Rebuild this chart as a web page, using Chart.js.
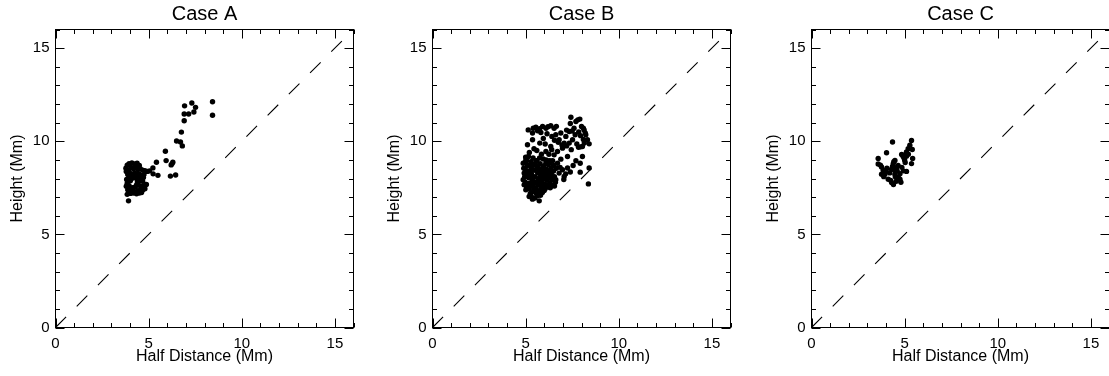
<!DOCTYPE html>
<html>
<head>
<meta charset="utf-8">
<script src="https://cdn.jsdelivr.net/npm/chart.js@4/dist/chart.umd.min.js"></script>
<style>
  html, body { margin: 0; padding: 0; background: #fff; overflow: hidden; }
  body { width: 1109px; height: 376px; position: relative; }
  .panel { position: absolute; top: 0; width: 370px; height: 376px; }
</style>
</head>
<body>
<div class="panel" style="left:0px"><canvas id="cA" width="370" height="376"></canvas></div>
<div class="panel" style="left:377px"><canvas id="cB" width="370" height="376"></canvas></div>
<div class="panel" style="left:756px"><canvas id="cC" width="370" height="376"></canvas></div>
<script>
// ---------- data ----------
const panelTitles = ['Case A', 'Case B', 'Case C'];
const xAxisTitle = 'Half Distance (Mm)';
const yAxisTitle = 'Height (Mm)';
const axisMin = 0;
const axisMax = 16;
const majorTickValues = [0, 5, 10, 15];
const minorTickValues = [0,1,2,3,4,5,6,7,8,9,10,11,12,13,14,15,16];
const diagonalLine = [[0, 0], [15.5, 15.5]];

// Case A: [half distance, height]
const caseA = [
  [8.43,12.12],[8.43,11.40],[7.32,12.05],[7.52,11.82],[6.93,11.90],[7.43,11.57],[7.15,11.46],
  [6.91,11.46],[6.91,11.10],[6.76,10.49],[6.50,10.01],[6.71,9.96],[6.81,9.75],[5.90,9.46],
  [5.94,8.96],[6.30,8.87],[6.21,8.73],[6.26,8.80],[6.17,8.13],[6.45,8.19],[5.42,8.87],
  [5.23,8.57],[5.24,8.25],[5.50,8.17],[5.05,8.41],
  [3.78,8.55],[3.85,8.72],[3.95,8.80],[4.10,8.83],[4.25,8.78],[4.38,8.82],[4.50,8.70],
  [3.80,8.38],[3.92,8.45],[4.05,8.60],[4.18,8.52],[4.30,8.60],[4.42,8.48],[4.55,8.52],
  [4.68,8.45],[4.80,8.42],[4.93,8.38],[3.88,8.22],[4.00,8.28],[4.12,8.18],[4.25,8.30],
  [4.38,8.20],[4.50,8.25],[4.62,8.15],[4.75,8.22],[3.95,8.05],[4.08,7.98],[4.22,8.05],
  [4.35,8.00],[4.48,8.08],[4.60,7.98],[4.72,8.05],[3.82,7.95],[4.52,7.88],[4.68,7.85],
  [3.85,7.75],[3.80,7.58],[3.95,7.62],[4.45,7.65],[4.60,7.58],[4.75,7.62],[4.88,7.68],
  [3.88,7.40],[4.00,7.32],[4.15,7.38],[4.28,7.28],[4.42,7.35],[4.55,7.30],[4.68,7.38],
  [4.80,7.45],[3.85,7.15],[4.02,7.20],[4.18,7.22],[4.35,7.18],[4.50,7.22],[4.62,7.25],
  [3.92,6.80],[4.28,7.55],[4.12,7.50],[4.40,7.82],[4.02,7.88],[4.35,7.65],[3.90,7.95],
  [4.58,7.45]
];

// Case B
const caseB = [
  [7.43,11.29],[7.91,11.19],[7.70,11.06],[7.80,11.15],[8.00,10.79],[8.10,10.70],[8.14,10.61],
  [8.23,10.35],[8.20,10.45],[8.32,10.08],[8.41,9.86],[8.05,9.72],[7.84,9.68],[7.95,9.70],
  [8.05,9.18],[7.93,8.82],[7.70,8.95],[8.41,8.56],[7.93,8.34],[8.37,7.71],
  [5.14,10.61],[5.41,10.70],[5.64,10.56],[5.91,10.79],[6.09,10.70],[6.35,10.83],[6.53,10.70],
  [5.37,10.44],[5.82,10.47],[6.41,10.26],[5.10,9.81],[5.37,10.08],[5.76,9.90],[5.55,10.75],
  [5.75,10.68],[6.20,10.78],[6.65,10.80],
  [6.62,10.35],[6.89,10.44],[7.16,10.26],[7.34,10.52],[6.80,10.08],[7.07,9.90],[6.98,9.63],
  [6.71,9.45],[6.53,9.27],[6.35,9.72],[6.09,9.45],[7.25,9.18],[6.89,9.04],[6.71,8.82],
  [7.25,8.56],[6.98,8.47],[6.80,8.29],[7.07,8.11],[6.62,7.93],[7.34,9.90],[7.52,10.08],
  [7.66,10.35],[7.50,10.55],[7.60,10.70],[7.40,10.95],[7.20,10.60],[7.85,10.50],[7.95,10.30],
  [8.10,10.10],[8.15,9.90],[7.75,9.85],[7.45,9.55],[7.20,9.75],[6.95,9.80],[6.75,9.95],
  [6.55,10.05],[6.40,9.55],[6.25,9.30],[6.05,9.85],[5.95,10.15],[6.15,10.40],[5.60,9.50],
  [5.85,9.30],[6.10,9.00],[6.30,8.95],[6.50,8.70],[6.85,8.60],[7.55,8.70],[7.15,8.25],
  [7.40,8.35],[7.05,7.95],[5.20,9.40],[5.00,9.15],[5.45,9.60],
  [4.87,8.82],[5.01,9.00],[5.15,9.18],[4.87,7.93],[4.92,7.66],[5.01,7.39],[5.19,7.03],
  [5.37,6.89],[5.73,6.80],[5.64,7.07],[4.92,8.29],[4.90,8.55],[4.95,8.10],[4.98,7.80],
  [5.05,7.55],[5.10,8.70],[5.12,8.40],[5.15,8.05],[5.18,7.75],[5.20,7.45],[5.25,7.20],
  [5.28,8.90],[5.30,8.60],[5.32,8.25],[5.35,7.90],[5.38,7.60],[5.40,7.30],[5.45,8.75],
  [5.48,8.45],[5.50,8.10],[5.52,7.80],[5.55,7.50],[5.58,7.20],[5.60,8.95],[5.62,8.60],
  [5.65,8.30],[5.68,7.95],[5.70,7.65],[5.72,7.35],[5.78,8.80],[5.80,8.45],[5.82,8.15],
  [5.85,7.85],[5.88,7.55],[5.90,7.25],[5.95,8.65],[5.98,8.35],[6.00,8.00],[6.02,7.70],
  [6.05,7.45],[6.10,8.50],[6.12,8.20],[6.15,7.90],[6.18,7.60],[6.22,8.75],[6.25,8.40],
  [6.28,8.05],[6.30,7.75],[6.35,8.55],[6.38,8.25],[6.40,7.95],[6.45,7.65],[6.50,8.40],
  [6.55,8.10],[6.60,7.80],[6.65,8.55],[5.05,8.95],[5.22,8.35],[5.42,8.05],[5.58,8.70],
  [5.75,8.05],[5.92,7.95],[6.08,8.80],[6.20,8.30],[5.28,7.75],[5.47,7.45],[5.67,7.75],
  [5.83,7.45],[6.00,7.35],[5.15,7.60],[5.35,8.45],[5.55,8.95],[5.75,9.10],[5.95,9.05],
  [6.15,8.95],[5.40,9.10],[5.10,8.20],[5.30,7.05],[5.50,6.95],[5.80,7.10],[6.20,7.55],
  [6.40,7.60],[6.55,7.60],[5.00,8.45],[4.95,8.85],[5.60,8.40],[5.88,8.25],[6.05,8.15],
  [5.45,7.75],[5.25,8.10],[6.30,8.85],[6.45,8.95],[6.00,8.55],[5.70,8.55],[5.35,8.70],
  [5.90,7.70],[6.10,7.65],[6.32,7.50],[5.55,7.40]
];

// Case C
const caseC = [
  [4.35,9.96],[5.37,10.04],[5.28,9.79],[5.41,9.56],[5.10,9.43],[5.19,9.60],[4.03,9.38],
  [3.58,9.08],[4.84,9.29],[4.98,9.08],[5.43,9.08],[5.37,8.80],[4.48,8.97],[4.39,8.80],
  [5.03,8.86],[5.10,9.20],[4.92,9.18],[3.58,8.78],[3.70,8.72],[3.76,8.62],[3.85,8.44],
  [3.94,8.23],[3.76,8.23],[3.88,8.10],[4.30,8.50],[4.57,8.59],[4.48,8.23],[4.75,8.26],
  [4.93,8.41],[5.10,8.38],[4.12,7.96],[4.30,7.78],[4.66,8.07],[4.75,7.96],[4.40,7.68],
  [4.55,7.85],[4.20,8.30],[4.35,8.65],[4.45,8.45],[4.60,8.40],[4.65,8.70],[4.85,8.60],
  [4.00,8.40],[4.05,8.55],[4.80,7.80],[5.00,9.00],[5.20,9.30],[4.50,8.10],[4.25,7.90],
  [3.95,8.35],[4.42,8.90],[4.95,9.25]
];

// ---------- drawing ----------
const FONT = "'Liberation Sans', Arial, Helvetica, sans-serif";

const boxTicks = {
  id: 'boxTicks',
  afterDatasetsDraw(chart) {
    const {ctx, chartArea: a, scales: {x, y}} = chart;
    ctx.save();
    ctx.strokeStyle = '#000';
    ctx.lineWidth = 1;
    ctx.strokeRect(a.left, a.top, a.right - a.left, a.bottom - a.top);
    ctx.beginPath();
    minorTickValues.forEach(v => {
      const len = majorTickValues.includes(v) ? 9 : 4.5;
      const px = Math.round(x.getPixelForValue(v)) + 0.5;
      ctx.moveTo(px, a.bottom); ctx.lineTo(px, a.bottom - len);
      ctx.moveTo(px, a.top); ctx.lineTo(px, a.top + len);
      const py = Math.round(y.getPixelForValue(v)) + 0.5;
      ctx.moveTo(a.left, py); ctx.lineTo(a.left + len, py);
      ctx.moveTo(a.right, py); ctx.lineTo(a.right - len, py);
    });
    ctx.stroke();
    ctx.restore();
  }
};

function makeChart(id, title, points) {
  const axisCommon = {
    type: 'linear',
    min: axisMin,
    max: axisMax,
    grid: { display: false, drawTicks: false },
    border: { display: false },
    afterBuildTicks: s => { s.ticks = majorTickValues.map(v => ({ value: v })); },
  };
  return new Chart(document.getElementById(id), {
    data: {
      datasets: [
        {
          type: 'line',
          data: diagonalLine.map(p => ({ x: p[0], y: p[1] })),
          borderColor: '#000',
          borderWidth: 1.1,
          borderDash: [15, 15],
          pointRadius: 0,
          fill: false,
          order: 2
        },
        {
          type: 'scatter',
          data: points.map(p => ({ x: p[0], y: p[1] })),
          backgroundColor: '#000',
          borderWidth: 0,
          pointRadius: 2.7,
          order: 1
        }
      ]
    },
    options: {
      responsive: false,
      animation: false,
      devicePixelRatio: 1,
      layout: { padding: { left: 0, right: 16.5, top: 0, bottom: 0 }, autoPadding: false },
      plugins: {
        legend: { display: false },
        tooltip: { enabled: false },
        title: {
          display: true,
          text: title,
          fullSize: false,
          color: '#000',
          font: { family: FONT, size: 20, weight: 'normal', lineHeight: 1.2 },
          padding: { top: 2.5, bottom: 3 }
        }
      },
      scales: {
        x: Object.assign({}, axisCommon, {
          position: 'bottom',
          ticks: { color: '#000', padding: 7, font: { family: FONT, size: 15 }, maxRotation: 0 },
          title: { display: true, text: xAxisTitle, color: '#000',
                   font: { family: FONT, size: 16, lineHeight: 1.2 }, padding: { top: 0, bottom: 10 } },
          afterFit: s => { s.height = 48.5; }
        }),
        y: Object.assign({}, axisCommon, {
          position: 'left',
          ticks: { color: '#000', padding: 6, font: { family: FONT, size: 15 } },
          title: { display: true, text: yAxisTitle, color: '#000',
                   font: { family: FONT, size: 16, lineHeight: 1.2 }, padding: { top: 8.4, bottom: 0 } },
          afterFit: s => { s.width = 55.5; }
        })
      }
    },
    plugins: [boxTicks]
  });
}

makeChart('cA', panelTitles[0], caseA);
makeChart('cB', panelTitles[1], caseB);
makeChart('cC', panelTitles[2], caseC);
</script>
</body>
</html>
